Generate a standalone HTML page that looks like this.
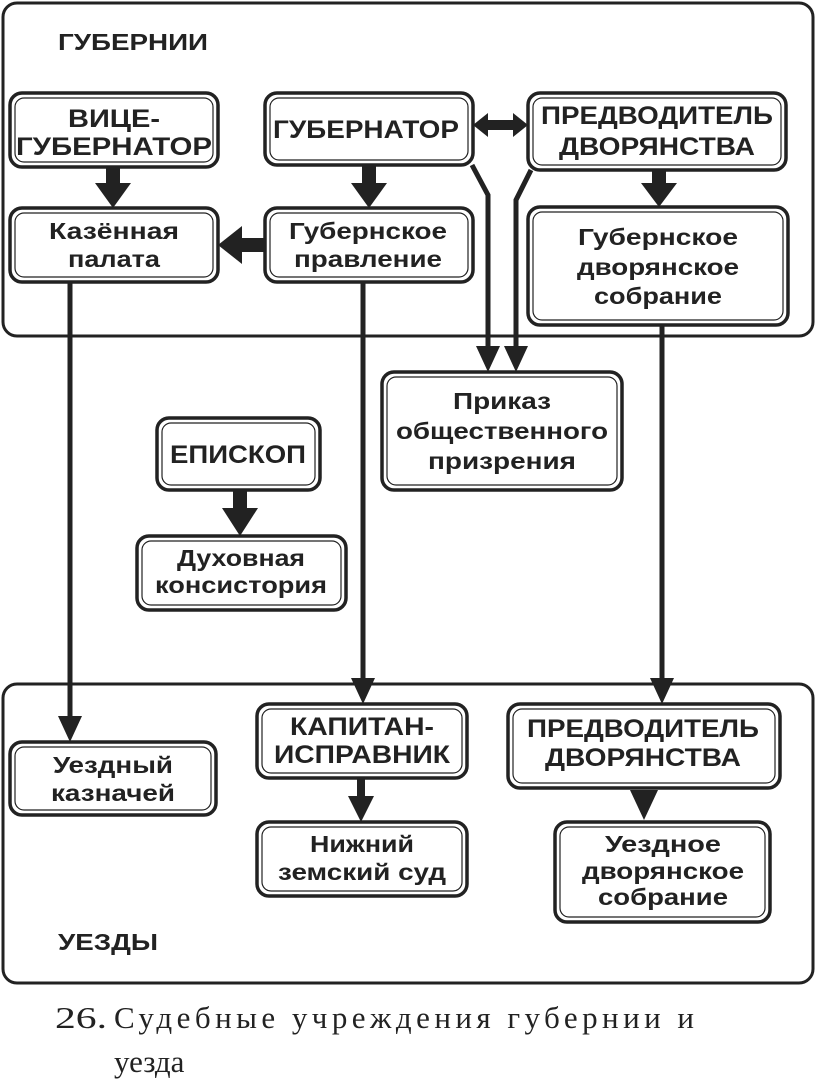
<!DOCTYPE html>
<html><head><meta charset="utf-8"><style>
html,body{margin:0;padding:0;background:#fff}
svg{display:block}
.b{font-family:"Liberation Sans",sans-serif;font-weight:bold;fill:#222;text-anchor:middle}
.c{font-size:25px}.l{font-size:23px}
</style></head><body>
<svg width="816" height="1089" viewBox="0 0 816 1089" xmlns="http://www.w3.org/2000/svg">
<defs>
<marker id="ah" markerWidth="6" markerHeight="6" refX="3" refY="5" orient="auto" markerUnits="userSpaceOnUse"></marker>
</defs>
<g fill="none" stroke="#222">
<rect x="3" y="3" width="810" height="333" rx="14" stroke-width="3"/>
<rect x="3" y="684" width="810" height="299" rx="14" stroke-width="3"/>
</g>
<g fill="#fff" stroke="#222">
<!-- boxes: outer + inner -->
<g stroke-width="3.5">
<rect x="10" y="93" width="208" height="74" rx="12"/>
<rect x="265" y="93" width="208" height="72" rx="12"/>
<rect x="528" y="93" width="258" height="77" rx="12"/>
<rect x="10" y="208" width="208" height="74" rx="12"/>
<rect x="265" y="208" width="208" height="74" rx="12"/>
<rect x="528" y="207" width="260" height="118" rx="12"/>
<rect x="382" y="372" width="240" height="118" rx="12"/>
<rect x="157" y="418" width="163" height="72" rx="12"/>
<rect x="137" y="536" width="209" height="74" rx="12"/>
<rect x="10" y="742" width="206" height="73" rx="12"/>
<rect x="257" y="704" width="210" height="74" rx="12"/>
<rect x="257" y="822" width="210" height="74" rx="12"/>
<rect x="508" y="704" width="272" height="84" rx="12"/>
<rect x="555" y="822" width="215" height="100" rx="12"/>
</g>
<g stroke-width="1.2" fill="none">
<rect x="15" y="98" width="198" height="64" rx="9"/>
<rect x="270" y="98" width="198" height="62" rx="9"/>
<rect x="533" y="98" width="248" height="67" rx="9"/>
<rect x="15" y="213" width="198" height="64" rx="9"/>
<rect x="270" y="213" width="198" height="64" rx="9"/>
<rect x="533" y="212" width="250" height="108" rx="9"/>
<rect x="387" y="377" width="230" height="108" rx="9"/>
<rect x="162" y="423" width="153" height="62" rx="9"/>
<rect x="142" y="541" width="199" height="64" rx="9"/>
<rect x="15" y="747" width="196" height="63" rx="9"/>
<rect x="262" y="709" width="200" height="64" rx="9"/>
<rect x="262" y="827" width="200" height="64" rx="9"/>
<rect x="513" y="709" width="262" height="74" rx="9"/>
<rect x="560" y="827" width="205" height="90" rx="9"/>
</g>
</g>
<!-- thick arrows -->
<g fill="#222" stroke="none">
<rect x="106" y="167" width="14" height="18"/><polygon points="95,183 131,183 113,208"/>
<rect x="362" y="165" width="14" height="20"/><polygon points="351,183 387,183 369,208"/>
<rect x="652" y="170" width="14" height="15"/><polygon points="641,183 677,183 659,207"/>
<rect x="240" y="238" width="25" height="14"/><polygon points="242,226 242,264 218,245"/>
<rect x="233" y="490" width="14" height="20"/><polygon points="222,508 258,508 240,536"/>
<polygon points="473,125 488,113 488,120 513,120 513,113 528,125 513,137 513,130 488,130 488,137"/>
<rect x="357" y="778" width="8" height="20"/><polygon points="348,796 374,796 361,822"/>
<polygon points="630,790 658,790 644,820"/>
</g>
<!-- thin lines -->
<g stroke="#222" stroke-width="5" fill="none">
<line x1="70" y1="282" x2="70" y2="720"/>
<line x1="363" y1="282" x2="363" y2="684"/>
<line x1="662" y1="325" x2="662" y2="684"/>
<polyline points="472,165 488,195 488,350"/>
<polyline points="531,170 516,200 516,350"/>
</g>
<g fill="#222">
<polygon points="58,716 82,716 70,742"/>
<polygon points="351,678 375,678 363,704"/>
<polygon points="650,678 674,678 662,704"/>
<polygon points="476,346 500,346 488,372"/>
<polygon points="504,346 528,346 516,372"/>
</g>
<!-- labels -->
<g class="b">
<text x="58" y="50" font-size="23" text-anchor="start" textLength="150" lengthAdjust="spacingAndGlyphs">ГУБЕРНИИ</text>
<text x="58" y="950" font-size="23" text-anchor="start" textLength="100" lengthAdjust="spacingAndGlyphs">УЕЗДЫ</text>
<text class="c" x="114" y="127" textLength="92" lengthAdjust="spacingAndGlyphs">ВИЦЕ-</text>
<text class="c" x="114" y="155" textLength="196" lengthAdjust="spacingAndGlyphs">ГУБЕРНАТОР</text>
<text class="c" x="366" y="138" textLength="186" lengthAdjust="spacingAndGlyphs">ГУБЕРНАТОР</text>
<text class="c" x="657" y="124" textLength="232" lengthAdjust="spacingAndGlyphs">ПРЕДВОДИТЕЛЬ</text>
<text class="c" x="657" y="155" textLength="196" lengthAdjust="spacingAndGlyphs">ДВОРЯНСТВА</text>
<text class="l" x="114" y="239" textLength="130" lengthAdjust="spacingAndGlyphs">Казённая</text>
<text class="l" x="114" y="267" textLength="92" lengthAdjust="spacingAndGlyphs">палата</text>
<text class="l" x="368" y="239" textLength="158" lengthAdjust="spacingAndGlyphs">Губернское</text>
<text class="l" x="368" y="267" textLength="148" lengthAdjust="spacingAndGlyphs">правление</text>
<text class="l" x="658" y="245" textLength="160" lengthAdjust="spacingAndGlyphs">Губернское</text>
<text class="l" x="658" y="275" textLength="162" lengthAdjust="spacingAndGlyphs">дворянское</text>
<text class="l" x="658" y="304" textLength="128" lengthAdjust="spacingAndGlyphs">собрание</text>
<text class="l" x="502" y="409" textLength="98" lengthAdjust="spacingAndGlyphs">Приказ</text>
<text class="l" x="502" y="439" textLength="212" lengthAdjust="spacingAndGlyphs">общественного</text>
<text class="l" x="502" y="469" textLength="148" lengthAdjust="spacingAndGlyphs">призрения</text>
<text class="c" x="238" y="463" textLength="136" lengthAdjust="spacingAndGlyphs">ЕПИСКОП</text>
<text class="l" x="241" y="566" textLength="128" lengthAdjust="spacingAndGlyphs">Духовная</text>
<text class="l" x="241" y="593" textLength="172" lengthAdjust="spacingAndGlyphs">консистория</text>
<text class="l" x="113" y="773" textLength="120" lengthAdjust="spacingAndGlyphs">Уездный</text>
<text class="l" x="113" y="801" textLength="124" lengthAdjust="spacingAndGlyphs">казначей</text>
<text class="c" x="362" y="735" textLength="144" lengthAdjust="spacingAndGlyphs">КАПИТАН-</text>
<text class="c" x="362" y="763" textLength="176" lengthAdjust="spacingAndGlyphs">ИСПРАВНИК</text>
<text class="c" x="643" y="737" textLength="232" lengthAdjust="spacingAndGlyphs">ПРЕДВОДИТЕЛЬ</text>
<text class="c" x="643" y="766" textLength="196" lengthAdjust="spacingAndGlyphs">ДВОРЯНСТВА</text>
<text class="l" x="362" y="852" textLength="104" lengthAdjust="spacingAndGlyphs">Нижний</text>
<text class="l" x="362" y="880" textLength="168" lengthAdjust="spacingAndGlyphs">земский суд</text>
<text class="l" x="663" y="852" textLength="116" lengthAdjust="spacingAndGlyphs">Уездное</text>
<text class="l" x="663" y="879" textLength="162" lengthAdjust="spacingAndGlyphs">дворянское</text>
<text class="l" x="663" y="905" textLength="130" lengthAdjust="spacingAndGlyphs">собрание</text>
</g>
<g font-family="Liberation Serif,serif" font-size="31" fill="#222">
<text x="55" y="1028" textLength="52" lengthAdjust="spacingAndGlyphs">26.</text>
<text x="114" y="1028" textLength="580" lengthAdjust="spacing">Судебные  учреждения  губернии  и</text>
<text x="114" y="1072">уезда</text>
</g>
</svg>
</body></html>
